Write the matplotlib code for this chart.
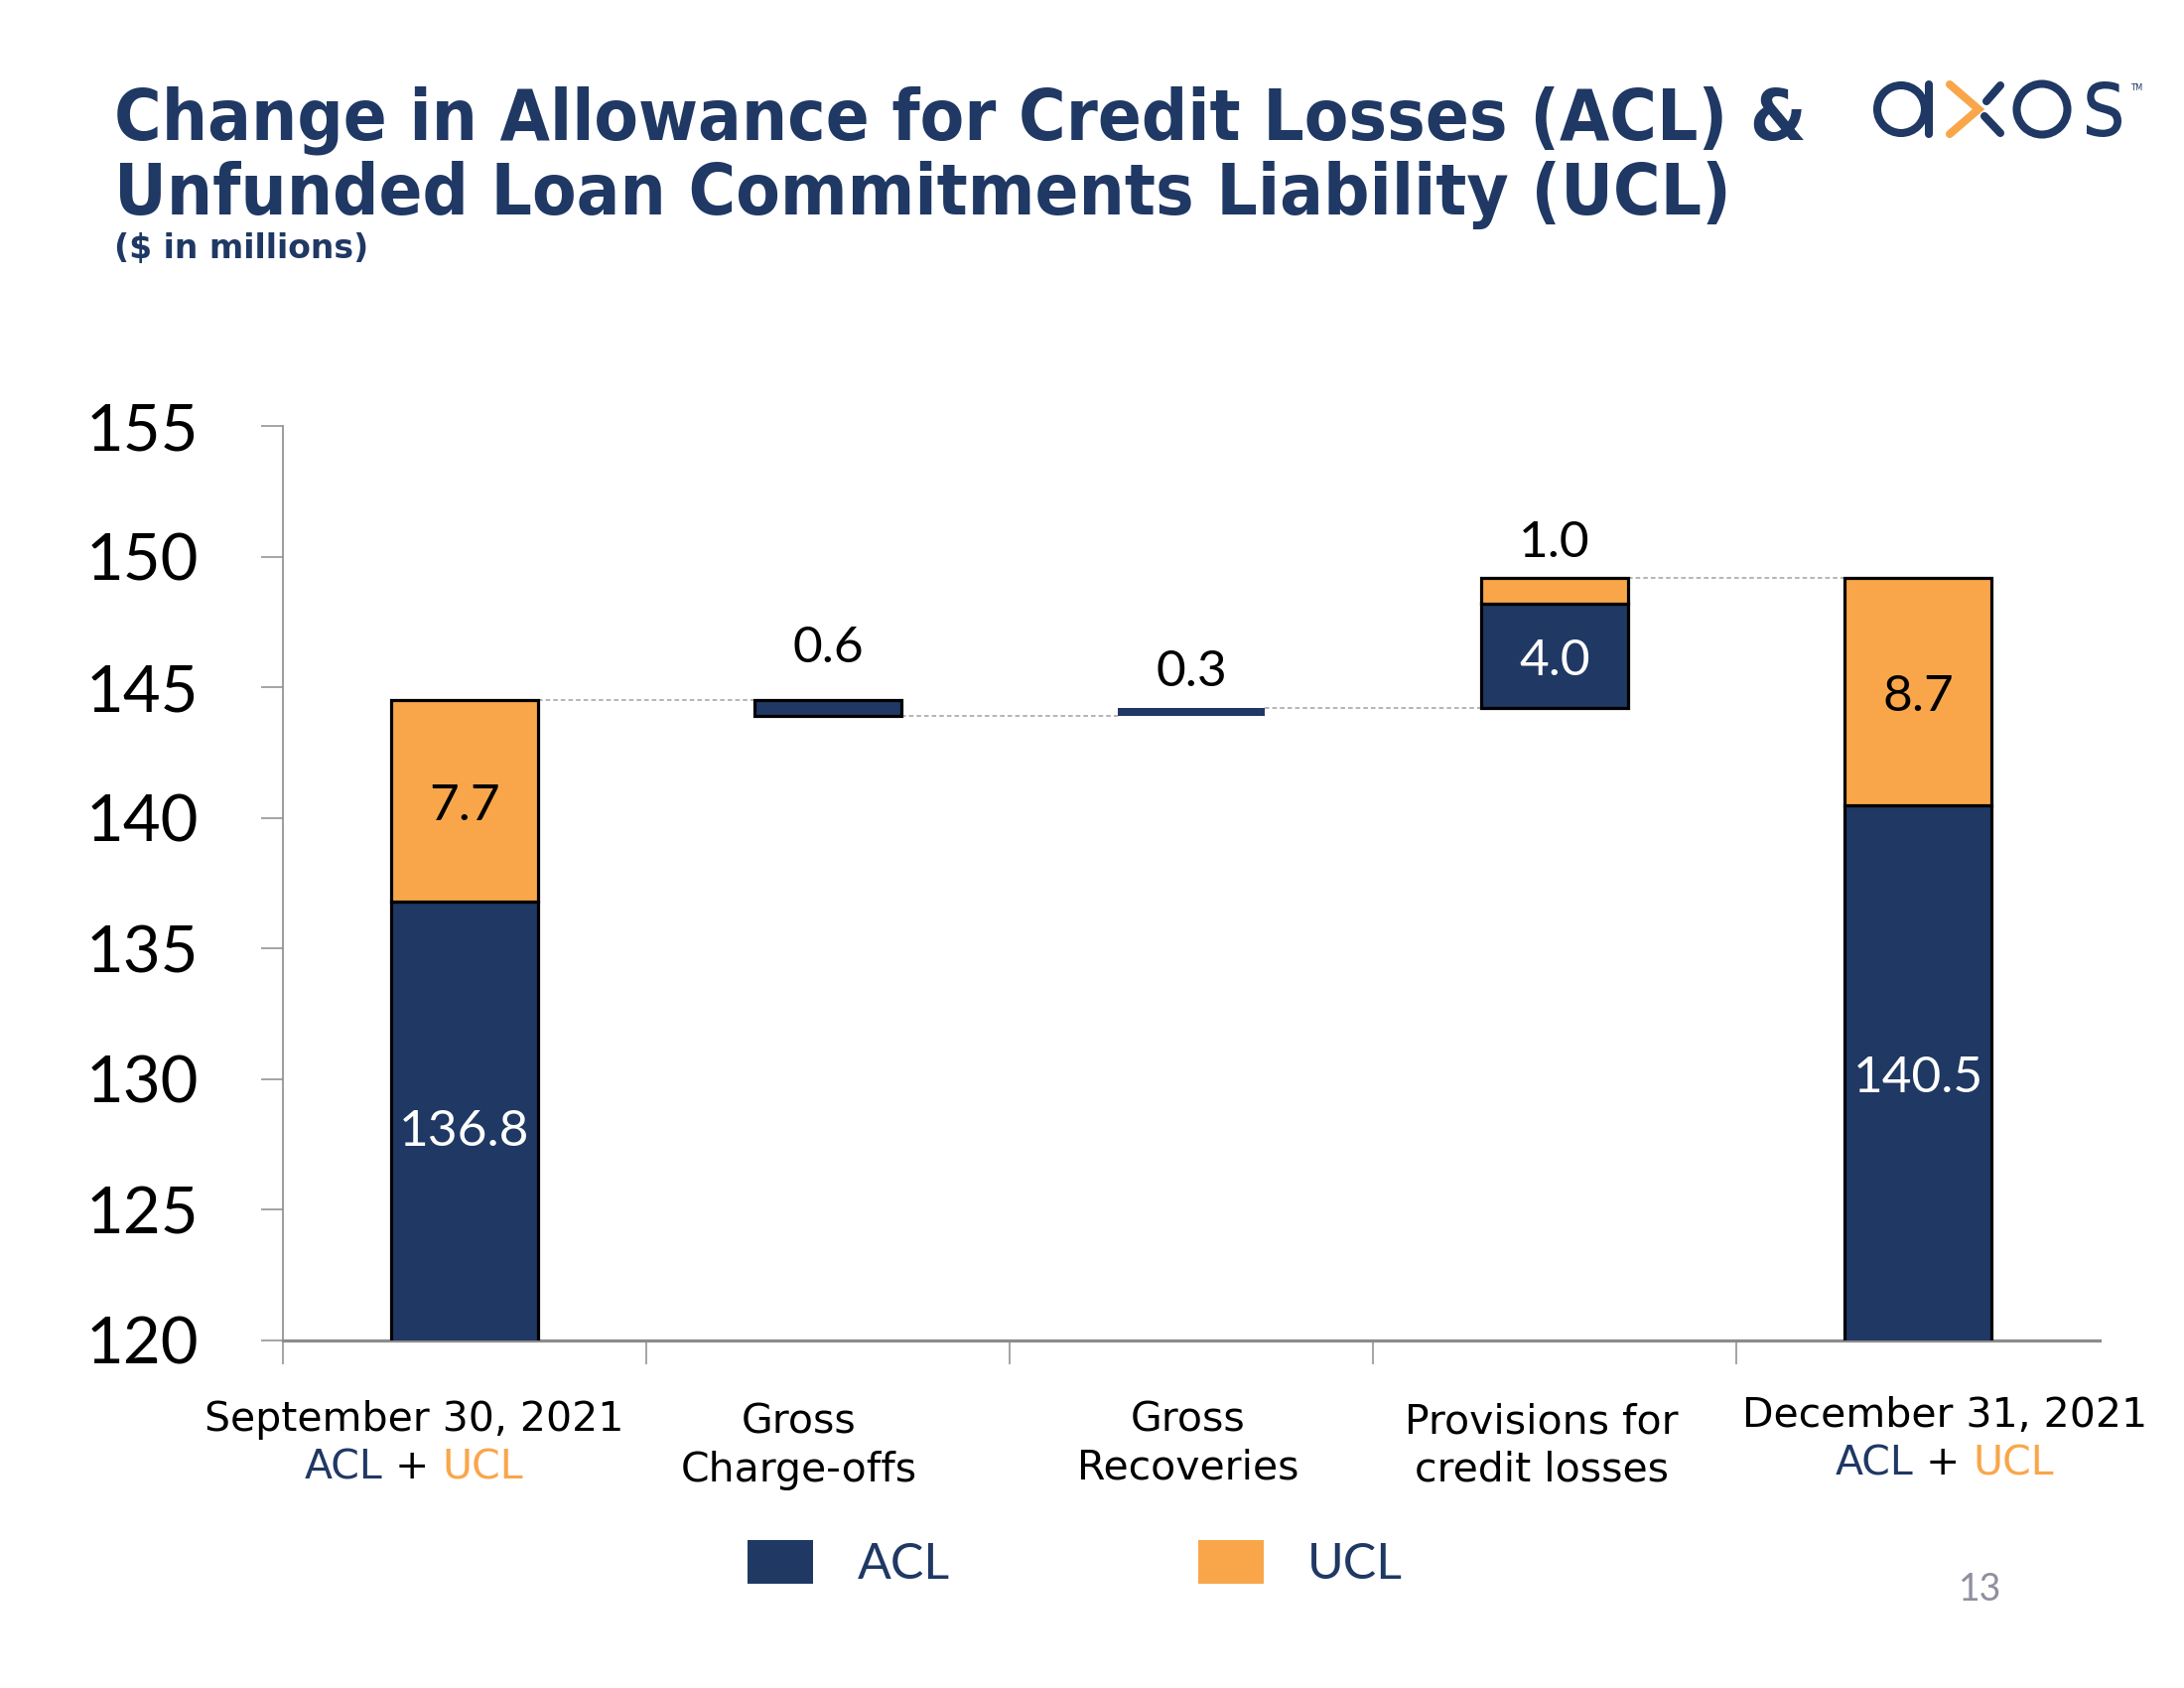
import matplotlib
matplotlib.use("Agg")
import matplotlib.pyplot as plt
from matplotlib.patches import Patch, Circle, PathPatch
from matplotlib.offsetbox import TextArea, HPacker, AnnotationBbox
from matplotlib.textpath import TextPath
from matplotlib.font_manager import FontProperties
from matplotlib.transforms import Affine2D, blended_transform_factory

# ---------------- data ----------------
categories = ["September 30, 2021", "Gross\nCharge-offs", "Gross\nRecoveries",
              "Provisions for\ncredit losses", "December 31, 2021"]
start_acl = 136.8
start_ucl = 7.7
gross_chargeoffs = 0.6
gross_recoveries = 0.3
provision_acl = 4.0
provision_ucl = 1.0
end_acl = 140.5
end_ucl = 8.7
y_ticks = [120, 125, 130, 135, 140, 145, 150, 155]

# ---------------- styles ----------------
NAVY = "#1F3864"
ORANGE = "#F9A64A"
GRAY = "#8C8C8C"
W, H = 2200, 1700
NUM_FONT = "Lato"
TXT_FONT = "DejaVu Sans"

fig = plt.figure(figsize=(22, 17), dpi=100)
ax = fig.add_axes([285 / W, 1 - 1350 / H, 1830 / W, (1350 - 429) / H])

# derived waterfall levels
start_total = start_acl + start_ucl
after_co = start_total - gross_chargeoffs
after_rec = after_co + gross_recoveries
after_prov_acl = after_rec + provision_acl
end_total = end_acl + end_ucl

x = list(range(len(categories)))
bw = 0.405
acl_heights = [start_acl, gross_chargeoffs, gross_recoveries, provision_acl, end_acl]
acl_bottoms = [0, after_co, after_co, after_rec, 0]
acl_edges = ["black", "black", "none", "black", "black"]
ax.bar(x, acl_heights, bottom=acl_bottoms, width=bw, color=NAVY,
       edgecolor=acl_edges, linewidth=2.3, zorder=3)

ucl_x = [0, 3, 4]
ucl_heights = [start_ucl, provision_ucl, end_ucl]
ucl_bottoms = [start_acl, after_prov_acl, end_acl]
ax.bar(ucl_x, ucl_heights, bottom=ucl_bottoms, width=bw, color=ORANGE,
       edgecolor="black", linewidth=2.3, zorder=3)

# connectors
levels = [start_total, after_co, after_rec, end_total]
for i, lv in enumerate(levels):
    ax.plot([i + bw / 2, i + 1 - bw / 2], [lv, lv], ls=(0, (3, 2)), lw=1.1,
            color="#A0A0A0", zorder=2)

ax.set_ylim(y_ticks[0], y_ticks[-1])
ax.set_xlim(-0.5, len(categories) - 0.5)
ax.set_yticks(y_ticks)
ax.set_yticklabels([str(t) for t in y_ticks], fontfamily=NUM_FONT, fontsize=47)
ax.set_xticks([i - 0.5 for i in range(len(categories))])
ax.set_xticklabels([])
ax.tick_params(axis="y", length=16, width=1.1, color=GRAY, pad=45)
ax.tick_params(axis="x", length=17, width=1.1, color=GRAY)
for s in ["top", "right"]:
    ax.spines[s].set_visible(False)
ax.spines["left"].set_color(GRAY)
ax.spines["left"].set_linewidth(1.2)
ax.spines["bottom"].set_color(GRAY)
ax.spines["bottom"].set_linewidth(2.3)

# value labels inside bars
ylo = y_ticks[0]
def mid(b, h):
    return (max(b, ylo) + b + h) / 2
inside = [
    (0, mid(0, start_acl), start_acl, "white", -8),
    (0, mid(start_acl, start_ucl), start_ucl, "black", -4),
    (3, mid(after_rec, provision_acl), provision_acl, "white", -4),
    (4, mid(0, end_acl), end_acl, "white", -4),
    (4, mid(end_acl, end_ucl), end_ucl, "black", -4),
]
for xi, yi, v, c, off in inside:
    ax.annotate(f"{v:.1f}", xy=(xi, yi), xytext=(0, off), textcoords="offset points",
                ha="center", va="center", color=c,
                fontfamily=NUM_FONT, fontsize=37, zorder=5)

above = [(1, start_total, gross_chargeoffs, 38), (2, after_rec, gross_recoveries, 26),
         (3, end_total, provision_ucl, 25)]
for xi, top, v, off in above:
    ax.annotate(f"{v:.1f}", xy=(xi, top), xytext=(0, off), textcoords="offset points",
                ha="center", va="center", fontfamily=NUM_FONT, fontsize=37, color="black")

# category labels
label_dx = [-0.14, -0.08, -0.01, -0.035, 0.074]
line1_y = [1441, 1443, 1441, 1443, 1437]
line_gap = 49
XL = 29.5
tr = blended_transform_factory(ax.transData, fig.transFigure)
for i, cat in enumerate(categories):
    lines = cat.split("\n")
    for k, ln in enumerate(lines):
        ax.text(i + label_dx[i], 1 - (line1_y[i] + k * line_gap) / H, ln,
                transform=tr, ha="center", va="baseline", fontfamily=TXT_FONT,
                fontsize=XL, color="black", clip_on=False)
    if len(lines) == 1:
        parts = [TextArea("ACL", textprops=dict(color=NAVY, fontfamily=TXT_FONT, fontsize=XL)),
                 TextArea(" + ", textprops=dict(color="black", fontfamily=TXT_FONT, fontsize=XL)),
                 TextArea("UCL", textprops=dict(color=ORANGE, fontfamily=TXT_FONT, fontsize=XL))]
        box = HPacker(children=parts, sep=0, pad=0, align="baseline")
        ab = AnnotationBbox(box, (i + label_dx[i], 1 - (line1_y[i] + line_gap + 8) / H),
                            xycoords=tr, box_alignment=(0.5, 0.0), frameon=False,
                            annotation_clip=False)
        ax.add_artist(ab)

# legend
fig.legend(handles=[Patch(facecolor=NAVY), Patch(facecolor=ORANGE)], labels=["ACL", "UCL"],
           loc="center", bbox_to_anchor=(1083 / W, 1 - 1575 / H), ncol=2, frameon=False,
           prop=FontProperties(family=NUM_FONT, size=36), labelcolor=NAVY,
           handlelength=1.33, handleheight=0.98, handletextpad=0.88, columnspacing=5.0)

# titles
fig.text(115 / W, 1 - 140 / H, "Change in Allowance for Credit Losses (ACL) &",
         fontfamily=TXT_FONT, fontweight="bold", fontstretch="condensed",
         fontsize=52, color=NAVY, va="baseline")
fig.text(115 / W, 1 - 216 / H, "Unfunded Loan Commitments Liability (UCL)",
         fontfamily=TXT_FONT, fontweight="bold", fontstretch="condensed",
         fontsize=52, color=NAVY, va="baseline")
fig.text(115 / W, 1 - 260 / H, "($ in millions)",
         fontfamily=TXT_FONT, fontweight="bold", fontsize=23.8, color=NAVY, va="baseline")
fig.text(1995 / W, 1 - 1612 / H, "13", fontfamily=NUM_FONT, fontsize=27,
         color="#8F8FA0", ha="center", va="baseline")

# logo (decoration) in pixel coordinates
lax = fig.add_axes([0, 0, 1, 1], zorder=-1)
lax.set_xlim(0, W)
lax.set_ylim(H, 0)
lax.axis("off")
sw = 5.8
lax.add_patch(Circle((1915, 110), 24, fill=False, edgecolor=NAVY, lw=sw))
lax.plot([1943, 1943], [85, 135], color=NAVY, lw=sw, solid_capstyle="round")
lax.plot([1964, 1993, 1964], [85, 110, 135], color=ORANGE, lw=sw,
         solid_capstyle="round", solid_joinstyle="miter")
lax.plot([2015, 2001], [86, 102], color=NAVY, lw=sw, solid_capstyle="round")
lax.plot([1999, 2015], [117, 134], color=NAVY, lw=sw, solid_capstyle="round")
lax.add_patch(Circle((2057, 110), 25.5, fill=False, edgecolor=NAVY, lw=sw))
tp = TextPath((0, 0), "s", size=100, prop=FontProperties(family="DejaVu Sans"))
ext = tp.get_extents()
t = (Affine2D().translate(-ext.x0, -ext.y0)
     .scale(35 / ext.width, -56 / ext.height).translate(2102, 138))
lax.add_patch(PathPatch(t.transform_path(tp), facecolor=NAVY, edgecolor="none"))
lax.text(2146, 88, "TM", fontsize=6, color=NAVY, fontfamily=TXT_FONT, va="center")

fig.savefig("out.png", dpi=100)
